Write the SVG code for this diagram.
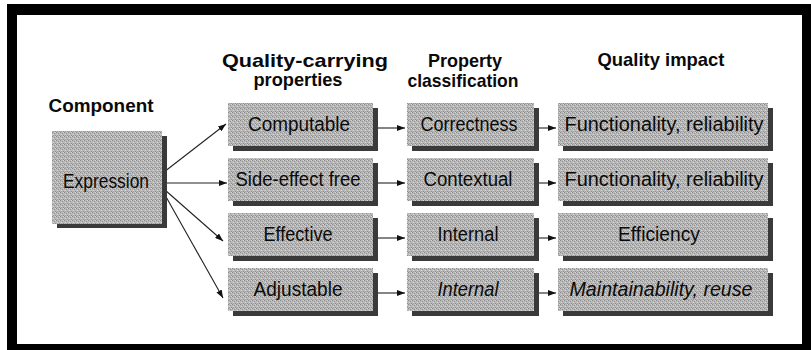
<svg xmlns="http://www.w3.org/2000/svg" width="811" height="350" viewBox="0 0 811 350">
  <defs>
    <pattern id="dither" x="0" y="0" width="4" height="4" patternUnits="userSpaceOnUse">
      <rect width="4" height="4" fill="#b9b9b9"/>
      <rect x="0" y="0" width="1" height="1" fill="#8a8a8a"/>
      <rect x="2" y="1" width="1" height="1" fill="#929292"/>
      <rect x="1" y="2" width="1" height="1" fill="#dadada"/>
      <rect x="3" y="3" width="1" height="1" fill="#8f8f8f"/>
      <rect x="3" y="0" width="1" height="1" fill="#d4d4d4"/>
      <rect x="1" y="3" width="1" height="1" fill="#a0a0a0"/>
    </pattern>
    <marker id="arr" viewBox="0 0 8 6" refX="8" refY="3" markerWidth="8" markerHeight="6" markerUnits="userSpaceOnUse" orient="auto">
      <path d="M0,0 L8,3 L0,6 Z" fill="#111"/>
    </marker>
  </defs>
  <style>
    .box { fill: url(#dither); }
    .shadow { fill: #3a3a3a; }
    .lbl { font-family: "Liberation Sans", Arial, sans-serif; font-size: 20px; fill: #0a0a0a; text-anchor: middle; }
    .it { font-style: italic; }
    .hd { font-family: "Liberation Sans", Arial, sans-serif; font-size: 19px; font-weight: bold; fill: #0a0a0a; text-anchor: middle; }
    .conn line { stroke: #222; stroke-width: 1.1; fill: none; marker-end: url(#arr); }
  </style>

  <!-- frame -->
  <rect x="0" y="0" width="811" height="350" fill="#ffffff"/>
  <rect x="7" y="4" width="804" height="346" fill="#000000"/>
  <rect x="17" y="15" width="785" height="329" fill="#ffffff"/>

  <!-- headings -->
  <g id="headings">
    <text class="hd" x="101" y="112" textLength="105" lengthAdjust="spacingAndGlyphs">Component</text>
    <text class="hd" x="305" y="67" textLength="166" lengthAdjust="spacingAndGlyphs">Quality-carrying</text>
    <text class="hd" x="298" y="86" textLength="89" lengthAdjust="spacingAndGlyphs">properties</text>
    <text class="hd" x="465" y="67" textLength="74" lengthAdjust="spacingAndGlyphs">Property</text>
    <text class="hd" x="463" y="87" textLength="111" lengthAdjust="spacingAndGlyphs">classification</text>
    <text class="hd" x="661" y="66" textLength="127" lengthAdjust="spacingAndGlyphs">Quality impact</text>
  </g>

  <!-- connectors -->
  <g id="connectors" class="conn">
    <line x1="164" y1="172" x2="226" y2="124"/>
    <line x1="165" y1="183" x2="227" y2="183"/>
    <line x1="165" y1="190" x2="223" y2="241"/>
    <line x1="165" y1="195" x2="223" y2="298"/>

    <line x1="377" y1="128" x2="405" y2="128"/>
    <line x1="377" y1="183" x2="405" y2="183"/>
    <line x1="377" y1="238" x2="405" y2="238"/>
    <line x1="377" y1="293" x2="405" y2="293"/>

    <line x1="538" y1="128" x2="556" y2="128"/>
    <line x1="538" y1="183" x2="556" y2="183"/>
    <line x1="538" y1="238" x2="556" y2="238"/>
    <line x1="538" y1="293" x2="556" y2="293"/>
  </g>

  <!-- component -->
  <g id="expression">
    <rect class="shadow" x="57" y="136" width="110" height="92"/>
    <rect class="box" x="52" y="131" width="110" height="93"/>
    <text class="lbl" x="106" y="188" textLength="86" lengthAdjust="spacingAndGlyphs">Expression</text>
  </g>

  <!-- column 1 -->
  <g id="computable">
    <rect class="shadow" x="233" y="108" width="145" height="43"/>
    <rect class="box" x="228" y="103" width="145" height="43"/>
    <text class="lbl" x="299" y="131" textLength="102" lengthAdjust="spacingAndGlyphs">Computable</text>
  </g>
  <g id="side-effect-free">
    <rect class="shadow" x="233" y="163" width="145" height="43"/>
    <rect class="box" x="228" y="158" width="145" height="43"/>
    <text class="lbl" x="298" y="186" textLength="125" lengthAdjust="spacingAndGlyphs">Side-effect free</text>
  </g>
  <g id="effective">
    <rect class="shadow" x="233" y="218" width="145" height="43"/>
    <rect class="box" x="228" y="213" width="145" height="43"/>
    <text class="lbl" x="298" y="241" textLength="69" lengthAdjust="spacingAndGlyphs">Effective</text>
  </g>
  <g id="adjustable">
    <rect class="shadow" x="233" y="273" width="145" height="43"/>
    <rect class="box" x="228" y="268" width="145" height="43"/>
    <text class="lbl" x="298" y="296" textLength="89" lengthAdjust="spacingAndGlyphs">Adjustable</text>
  </g>

  <!-- column 2 -->
  <g id="correctness">
    <rect class="shadow" x="412" y="108" width="127" height="43"/>
    <rect class="box" x="407" y="103" width="127" height="43"/>
    <text class="lbl" x="469" y="131" textLength="97" lengthAdjust="spacingAndGlyphs">Correctness</text>
  </g>
  <g id="contextual">
    <rect class="shadow" x="412" y="163" width="127" height="43"/>
    <rect class="box" x="407" y="158" width="127" height="43"/>
    <text class="lbl" x="468" y="186" textLength="89" lengthAdjust="spacingAndGlyphs">Contextual</text>
  </g>
  <g id="internal-1">
    <rect class="shadow" x="412" y="218" width="127" height="43"/>
    <rect class="box" x="407" y="213" width="127" height="43"/>
    <text class="lbl" x="468" y="241" textLength="61" lengthAdjust="spacingAndGlyphs">Internal</text>
  </g>
  <g id="internal-2">
    <rect class="shadow" x="412" y="273" width="127" height="43"/>
    <rect class="box" x="407" y="268" width="127" height="43"/>
    <text class="lbl it" x="468" y="296" textLength="61" lengthAdjust="spacingAndGlyphs">Internal</text>
  </g>

  <!-- column 3 -->
  <g id="impact-1">
    <rect class="shadow" x="563" y="108" width="210" height="43"/>
    <rect class="box" x="558" y="103" width="210" height="43"/>
    <text class="lbl" x="664" y="131" textLength="199" lengthAdjust="spacingAndGlyphs">Functionality, reliability</text>
  </g>
  <g id="impact-2">
    <rect class="shadow" x="563" y="163" width="210" height="43"/>
    <rect class="box" x="558" y="158" width="210" height="43"/>
    <text class="lbl" x="664" y="186" textLength="199" lengthAdjust="spacingAndGlyphs">Functionality, reliability</text>
  </g>
  <g id="impact-3">
    <rect class="shadow" x="563" y="218" width="210" height="43"/>
    <rect class="box" x="558" y="213" width="210" height="43"/>
    <text class="lbl" x="659" y="241" textLength="82" lengthAdjust="spacingAndGlyphs">Efficiency</text>
  </g>
  <g id="impact-4">
    <rect class="shadow" x="563" y="273" width="210" height="43"/>
    <rect class="box" x="558" y="268" width="210" height="43"/>
    <text class="lbl it" x="661" y="296" textLength="183" lengthAdjust="spacingAndGlyphs">Maintainability, reuse</text>
  </g>
</svg>
